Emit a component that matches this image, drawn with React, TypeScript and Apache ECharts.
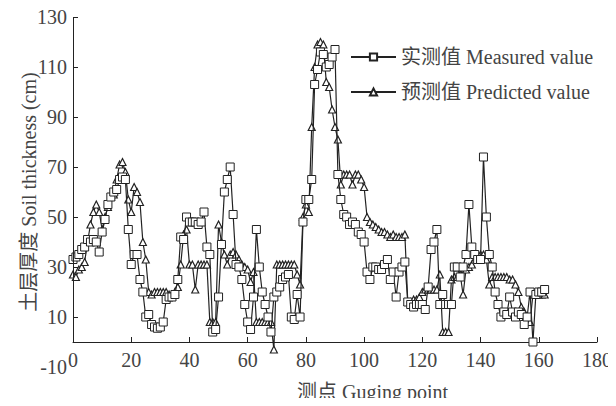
import React, { useEffect, useRef } from "react";
import * as echarts from "echarts";

// Gauging point index
const points: number[] = Array.from({ length: 163 }, (_, i) => i);

// 实测值 Measured value (cm)
const measured: number[] = [
  33, 34, 35, 37, 38, 41, 40, 41, 40, 36,
  44, 49, 55, 58, 60, 61, 65, 66, 65, 45,
  31, 35, 35, 25, 20, 10, 11, 7, 6, 5.5,
  6, 8, 17, 18, 18, 19, 25, 42, 41, 50,
  48, 48, 48, 47, 48, 52, 38, 35, 4, 5,
  18, 39, 60, 65, 70, 51, 31, 30, 25, 15,
  8, 5, 18, 45, 30, 20, 15, 10, 4, 18,
  20, 22, 25, 26, 27, 10, 9, 19, 10, 48,
  57, 57, 65, 103, 109, 116, 115, 110, 111, 114,
  117, 67, 57, 51, 50, 47, 48, 47, 44, 43,
  40, 28, 25, 30, 30, 29, 29, 31, 33, 25,
  28, 18, 28, 30, 32, 16, 15, 14, 15, 15,
  15, 13, 22, 37, 40, 45, 15, 19, 15, 15,
  15, 30, 30, 26, 30, 35, 55, 38, 35, 33,
  33, 74, 50, 35, 30, 20, 15, 10, 12, 11,
  18, 12, 10, 12, 11, 7, 10, 20, 0, 19,
  20, 20, 21,
];

// 预测值 Predicted value (cm)
const predicted: number[] = [
  27, 26, 29, 30, 32, 40, 47, 52, 55, 52,
  45, 50, 54, 58, 59, 65, 71, 72, 68, 57,
  52, 62, 60, 56, 40, 33, 20, 19, 20, 20,
  20, 20, 20, 19, 19, 20, 22, 31, 43, 45,
  31, 31, 21, 31, 31, 31, 31, 8, 8, 8,
  47, 40, 35, 31, 35, 36, 35, 33, 31, 30,
  29, 24, 28, 8, 8, 8, 8, 8, 8, -3,
  31, 31, 31, 31, 31, 31, 31, 27, 23, 50,
  55, 52, 86, 110, 119, 120, 119, 104, 102, 93,
  86, 81, 63, 67, 67, 67, 63, 67, 67, 65,
  62, 50, 48, 47, 46, 45, 44, 44, 43, 42,
  43, 42, 42, 42, 43, 16, 16, 17, 17, 18,
  20, 21, 21, 21, 21, 21, 27, 4, 4, 4,
  25, 26, 26, 27, 19, 29, 30, 31, 33, 34,
  35, 35, 33, 23, 26, 26, 26, 26, 26, 26,
  25, 25, 23, 20, 14, 12, 10, 8, 19, 19,
  19, 19, 19,
];

const xTicks = { min: 0, max: 180, interval: 20 };
const yTicks = { min: -10, max: 130, interval: 20 };
const yTickValues: number[] = [10, 30, 50, 70, 90, 110, 130];

const FONT = "Liberation Serif, Noto Sans CJK SC, serif";
const TEXT = "#444";
const INK = "#222";

export default function App() {
  const ref = useRef<HTMLDivElement>(null);
  useEffect(() => {
    if (!ref.current) return;
    const chart = echarts.init(ref.current, undefined, { renderer: "svg" });
    chart.setOption({
      animation: false,
      backgroundColor: "#fff",
      textStyle: { fontFamily: FONT },
      grid: { left: 73, right: 19, top: 17, bottom: 39, outerBoundsMode: "none", containLabel: false },
      legend: {
        left: 345,
        top: 42,
        orient: "vertical",
        itemWidth: 45,
        itemHeight: 9,
        itemGap: 15,
        data: ["实测值 Measured value", "预测值 Predicted value"],
        textStyle: { fontFamily: FONT, fontSize: 20, color: TEXT },
      },
      xAxis: {
        type: "value",
        min: xTicks.min,
        max: xTicks.max,
        interval: xTicks.interval,
        offset: -25,
        name: "测点 Guging point",
        nameLocation: "middle",
        nameGap: 40,
        nameMoveOverlap: false,
        nameTextStyle: { fontFamily: FONT, fontSize: 20, color: TEXT, padding: [0, 0, 0, 75] },
        axisLine: { show: true, onZero: false, lineStyle: { color: INK, width: 1 } },
        axisTick: { show: true, inside: true, length: 5, lineStyle: { color: INK } },
        axisLabel: { fontFamily: FONT, fontSize: 20, color: TEXT, margin: 8 },
        splitLine: { show: false },
      },
      yAxis: {
        type: "value",
        min: yTicks.min,
        max: yTicks.max,
        interval: yTicks.interval,
        name: "土层厚度 Soil thickness (cm)",
        nameLocation: "middle",
        nameRotate: 90,
        nameGap: 34,
        nameMoveOverlap: false,
        nameTextStyle: { fontFamily: FONT, fontSize: 20, color: TEXT },
        axisLine: { show: false, onZero: false },
        axisTick: {
          show: true,
          inside: true,
          length: 5,
          lineStyle: { color: INK },
          customValues: yTickValues,
        },
        axisLabel: { fontFamily: FONT, fontSize: 20, color: TEXT, margin: 6 },
        splitLine: { show: false },
      },
      series: [
        {
          name: "预测值 Predicted value",
          type: "line",
          data: points.slice(0, predicted.length).map((x, i) => [x, predicted[i]]),
          symbol: "triangle",
          symbolSize: 7,
          showAllSymbol: true,
          itemStyle: { color: "#fff", borderColor: INK, borderWidth: 1.2 },
          lineStyle: { color: INK, width: 1.2 },
          z: 2,
          markLine: {
            silent: true,
            symbol: ["none", "none"],
            label: { show: false },
            lineStyle: { color: INK, type: "solid", width: 1 },
            data: [[{ coord: [0, 0] }, { coord: [0, 130] }]],
          },
        },
        {
          name: "实测值 Measured value",
          type: "line",
          data: points.slice(0, measured.length).map((x, i) => [x, measured[i]]),
          symbol: "rect",
          symbolSize: 8,
          showAllSymbol: true,
          itemStyle: { color: "#fff", borderColor: INK, borderWidth: 1 },
          lineStyle: { color: INK, width: 1.2 },
          z: 3,
        },
      ],
    });
    return () => chart.dispose();
  }, []);
  return <div ref={ref} style={{ width: 616, height: 406, margin: -8 }} />;
}
